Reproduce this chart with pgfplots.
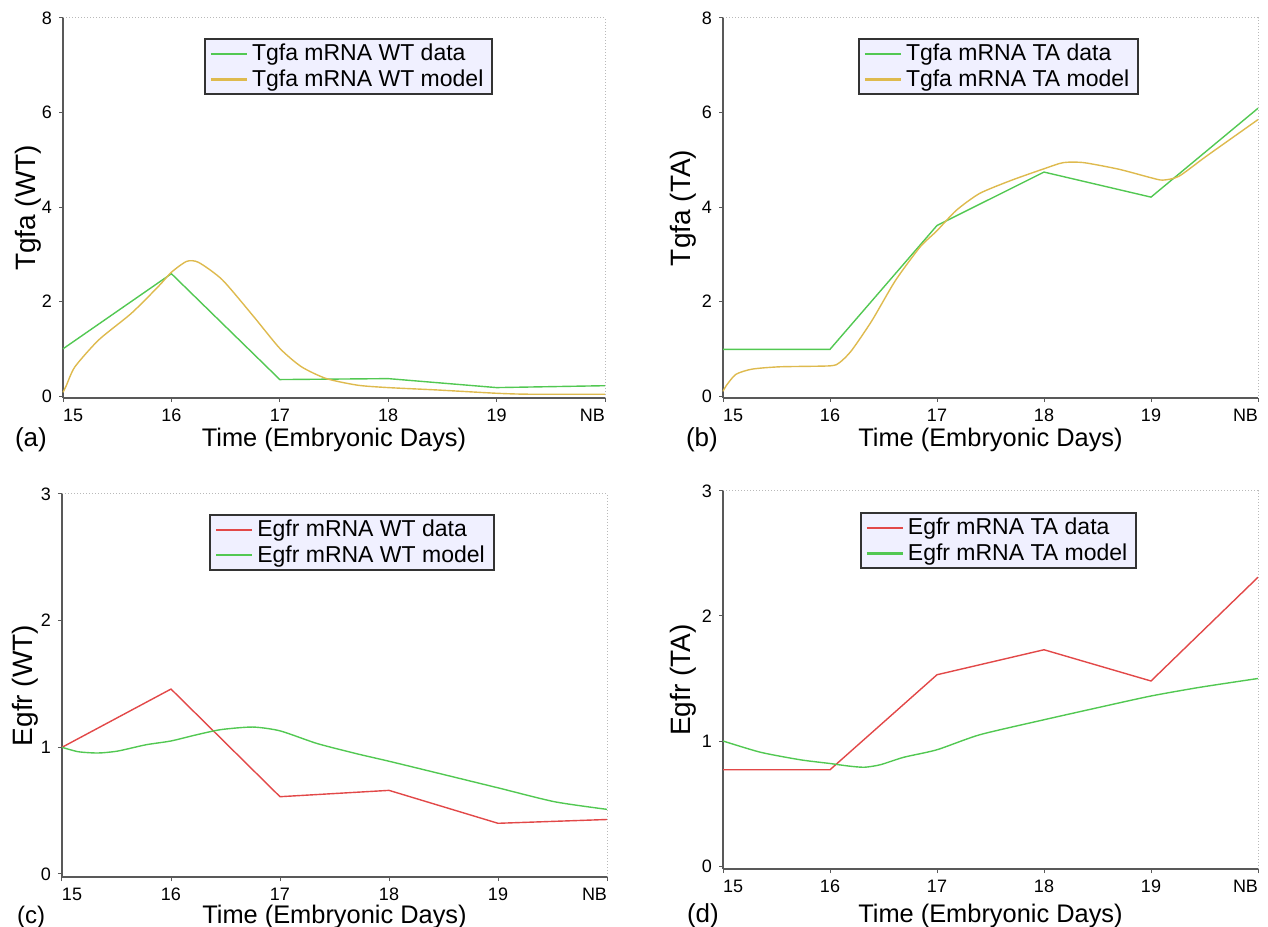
\documentclass[border=0pt]{standalone}
\usepackage{fontspec}
\setmainfont{Liberation Sans}
\usepackage{pgfplots}
\pgfplotsset{compat=1.18}

\definecolor{cgreen}{RGB}{82,200,82}
\definecolor{cgold}{RGB}{222,186,78}
\definecolor{cred}{RGB}{226,72,72}
\definecolor{lav}{RGB}{240,240,255}

\tikzset{
  dotframe/.style={gray!55, line width=0.5pt, densely dotted},
}

\pgfplotsset{
  panel/.style={
    scale only axis,
    axis lines*=left,
    clip=false,
    xmin=15, xmax=20,
    xtick={15,16,17,18,19,20},
    xticklabels={\makebox[0pt][l]{15},16,17,18,19,\makebox[0pt][r]{NB}},
    tick align=outside,
    major tick length=2pt,
    axis line style={black!65, line width=0.6pt},
    tick style={black!65, line width=0.5pt},
    ticklabel style={font=\fontsize{9}{10}\selectfont},
    /pgf/number format/assume math mode=true,
    xlabel={Time (Embryonic Days)},
    xlabel style={font=\fontsize{12.7}{15}\selectfont},
    ylabel style={font=\fontsize{14}{16}\selectfont},
    legend cell align=left,
    legend style={anchor=north, fill=lav, draw=black!80, line width=0.9pt,
      font=\fontsize{11.5}{12.5}\selectfont, inner xsep=2.5pt, inner ysep=0.5pt,
      row sep=-1pt},
    every legend image post/.style={line width=1.1pt},
    legend image code/.code={\draw[#1] plot coordinates {(0pt,0pt) (18pt,0pt)};},
  },
}

\begin{document}
\begin{tikzpicture}
\useasboundingbox (0,0) rectangle (634pt,463pt);

% (a) Tgfa WT
\begin{axis}[panel, at={(31.5pt,264pt)}, anchor=south west,
  width=271pt, height=190pt,
  ymin=-0.04, ymax=8, ytick={0,2,4,6,8},
  ylabel={Tgfa (WT)},
  xlabel style={at={(rel axis cs:0.5,0)}, anchor=base, yshift=-24.5pt},
  ylabel style={at={(rel axis cs:0,0.5)}, anchor=center, yshift=17.5pt},
  legend style={at={(0.527,0.947)}}]
\draw[dotframe] (rel axis cs:0,1) -- (rel axis cs:1,1) -- (rel axis cs:1,0);
\addplot[cgreen, line width=0.7pt] coordinates {
  (15,1.0) (16,2.59) (17,0.35) (18,0.37) (19,0.18) (20,0.22)};
\addplot[cgold, line width=0.7pt, smooth, tension=0.4] coordinates {
  (15,0.08) (15.03,0.22) (15.11,0.62) (15.33,1.19) (15.63,1.75) (15.88,2.32)
  (16,2.62) (16.14,2.85) (16.25,2.83) (16.47,2.46) (16.76,1.68) (17,1.01)
  (17.2,0.62) (17.43,0.37) (17.72,0.23) (18,0.18) (18.45,0.13) (19,0.06)
  (19.3,0.04) (20,0.04)};
\legend{Tgfa mRNA WT data, Tgfa mRNA WT model\hspace{6pt}}
\end{axis}

% (b) Tgfa TA
\begin{axis}[panel, at={(361.5pt,264pt)}, anchor=south west,
  width=267.5pt, height=190pt,
  ymin=-0.04, ymax=8, ytick={0,2,4,6,8},
  ylabel={Tgfa (TA)},
  xlabel style={at={(rel axis cs:0.5,0)}, anchor=base, yshift=-24.5pt},
  ylabel style={at={(rel axis cs:0,0.5)}, anchor=center, yshift=20pt},
  legend style={at={(0.515,0.947)}}]
\draw[dotframe] (rel axis cs:0,1) -- (rel axis cs:1,1) -- (rel axis cs:1,0);
\addplot[cgreen, line width=0.7pt] coordinates {
  (15,0.99) (16,0.99) (17,3.61) (18,4.74) (19,4.21) (20,6.09)};
\addplot[cgold, line width=0.7pt, smooth, tension=0.4] coordinates {
  (15,0.1) (15.03,0.22) (15.12,0.46) (15.27,0.57) (15.53,0.62) (16,0.64)
  (16.09,0.71) (16.2,0.96) (16.39,1.59) (16.61,2.44) (16.84,3.15) (17,3.5)
  (17.18,3.93) (17.4,4.29) (17.7,4.57) (18,4.81) (18.18,4.94) (18.37,4.94)
  (18.7,4.8) (19,4.62) (19.11,4.57) (19.26,4.65) (19.52,5.08) (20,5.85)};
\legend{Tgfa mRNA TA data, Tgfa mRNA TA model\hspace{4pt}}
\end{axis}

% (c) Egfr WT
\begin{axis}[panel, at={(31pt,24.5pt)}, anchor=south west,
  width=272.5pt, height=191.5pt,
  ymin=-0.024, ymax=3, ytick={0,1,2,3},
  ylabel={Egfr (WT)},
  xlabel style={at={(rel axis cs:0.5,0)}, anchor=base, yshift=-23pt},
  ylabel style={at={(rel axis cs:0,0.5)}, anchor=center, yshift=18.5pt},
  legend style={at={(0.532,0.948)}}]
\draw[dotframe] (rel axis cs:0,1) -- (rel axis cs:1,1) -- (rel axis cs:1,0);
\addplot[cred, line width=0.7pt] coordinates {
  (15,1.0) (16,1.46) (17,0.61) (18,0.66) (19,0.40) (20,0.43)};
\addplot[cgreen, line width=0.7pt, smooth, tension=0.4] coordinates {
  (15,1.0) (15.15,0.965) (15.33,0.955) (15.51,0.97) (15.77,1.02) (16,1.05)
  (16.24,1.1) (16.46,1.14) (16.75,1.16) (17,1.13) (17.34,1.03) (17.7,0.95)
  (18,0.89) (18.43,0.80) (19,0.68) (19.52,0.57) (20,0.51)};
\legend{Egfr mRNA WT data, Egfr mRNA WT model\hspace{6pt}}
\end{axis}

% (d) Egfr TA
\begin{axis}[panel, at={(361.5pt,28.5pt)}, anchor=south west,
  width=267.5pt, height=189pt,
  ymin=-0.024, ymax=3, ytick={0,1,2,3},
  ylabel={Egfr (TA)},
  xlabel style={at={(rel axis cs:0.5,0)}, anchor=base, yshift=-26.5pt},
  ylabel style={at={(rel axis cs:0,0.5)}, anchor=center, yshift=20pt},
  legend style={at={(0.515,0.944)}}]
\draw[dotframe] (rel axis cs:0,1) -- (rel axis cs:1,1) -- (rel axis cs:1,0);
\addplot[cred, line width=0.7pt] coordinates {
  (15,0.77) (16,0.77) (17,1.53) (18,1.73) (19,1.48) (20,2.31)};
\addplot[cgreen, line width=0.7pt, smooth, tension=0.4] coordinates {
  (15,1.0) (15.35,0.91) (15.72,0.85) (16,0.82) (16.17,0.80) (16.32,0.79)
  (16.47,0.81) (16.69,0.87) (17,0.93) (17.4,1.05) (18,1.17) (18.52,1.27)
  (19,1.36) (19.46,1.43) (20,1.5)};
\legend{Egfr mRNA TA data, Egfr mRNA TA model\hspace{4pt}}
\end{axis}

\node[anchor=base west, font=\fontsize{13}{15}\selectfont] at (4pt,239.5pt) {(a)};
\node[anchor=base west, font=\fontsize{13}{15}\selectfont] at (339.5pt,239.5pt) {(b)};
\node[anchor=base west, font=\fontsize{12}{14}\selectfont] at (5pt,1.5pt) {(c)};
\node[anchor=base west, font=\fontsize{13}{15}\selectfont] at (340pt,2pt) {(d)};
\end{tikzpicture}
\end{document}
